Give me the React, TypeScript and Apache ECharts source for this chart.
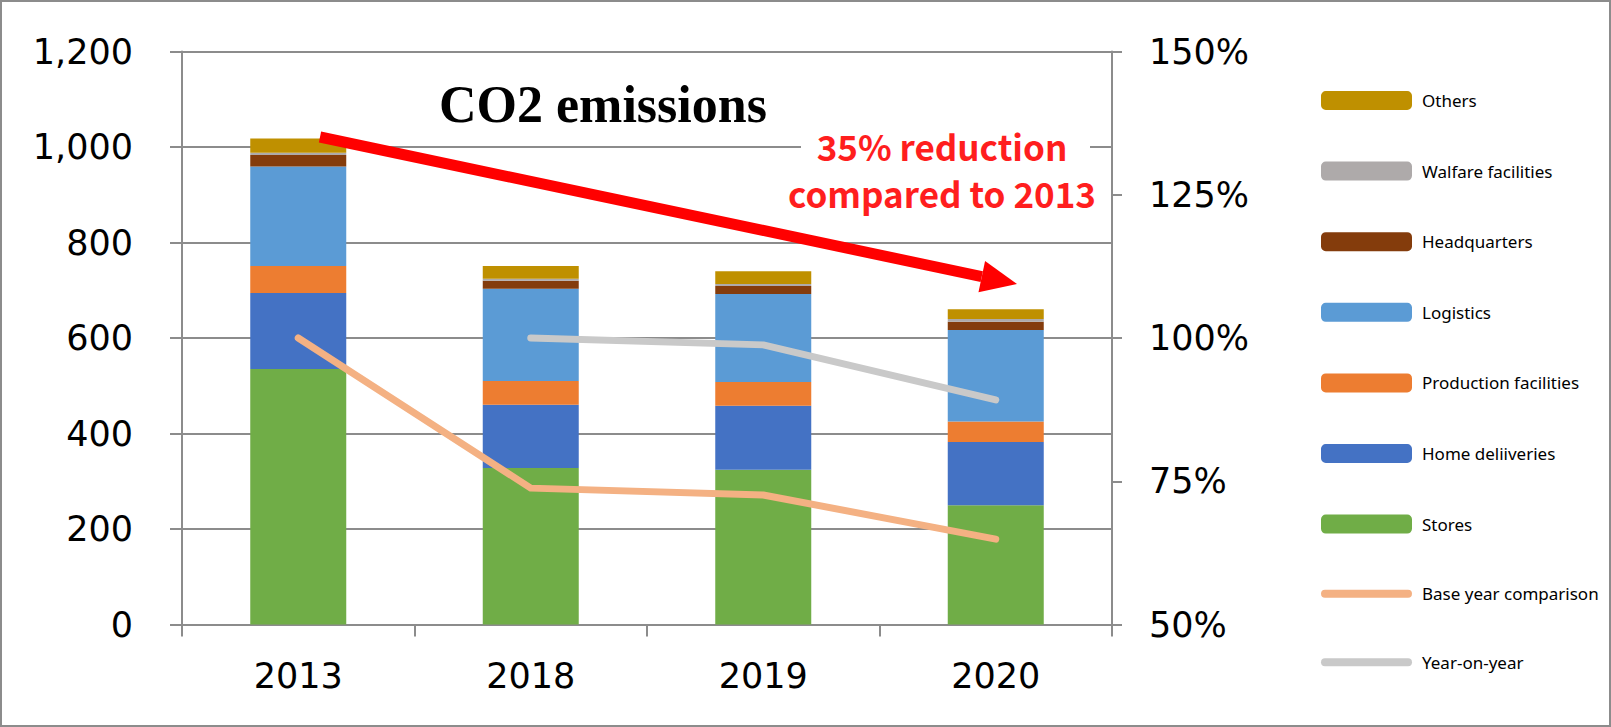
import React, { useEffect, useRef } from "react";
import * as echarts from "echarts";

const categories = ["2013", "2018", "2019", "2020"];
const stores = [535, 328, 324, 250];
const homeDeliveries = [159, 132, 134, 132];
const production = [57, 50, 50, 43];
const logistics = [208, 193, 184, 192];
const headquarters = [24, 17, 17, 17];
const welfare = [5, 4, 4, 6];
const others = [30, 27, 27, 20];
const baseYear = [100, 73.8, 72.6, 64.9];
const yearOnYear = [null, 100, 98.8, 89.2];

const leftTicks = { min: 0, max: 1200, interval: 200 };
const rightTicks = { min: 50, max: 150, interval: 25 };

const GRID = "#8c8c8c";
const LINE_ICON = "path://M4,0 L87,0 A4,4 0 0 1 87,8 L4,8 A4,4 0 0 1 4,0 Z";

export default function App() {
  const ref = useRef<HTMLDivElement>(null);
  useEffect(() => {
    document.body.style.margin = "0";
    const chart = echarts.init(ref.current!, null, { renderer: "svg" });
    const barSeries = (name: string, data: number[], color: string) => ({
      name,
      type: "bar",
      stack: "total",
      data,
      barWidth: 96,
      itemStyle: { color },
      z: 2,
    });
    const lineSeries = (name: string, data: (number | null)[], color: string) => ({
      name,
      type: "line",
      yAxisIndex: 1,
      data,
      symbol: "none",
      showSymbol: false,
      lineStyle: { color, width: 7, cap: "round", join: "round" },
      itemStyle: { color },
      z: 5,
    });
    // arrow geometry
    const sx = 320, sy = 137, tx = 1017, ty = 284;
    const dx = tx - sx, dy = ty - sy;
    const len = Math.sqrt(dx * dx + dy * dy);
    const ux = dx / len, uy = dy / len;
    const nx = -uy, ny = ux;
    const headLen = 36, headHalf = 16;
    const bx = tx - headLen * ux, by = ty - headLen * uy;

    chart.setOption({
      animation: false,
      grid: { left: 182, right: 499, top: 51.5, bottom: 102.5 },
      legend: {
        orient: "vertical",
        left: 1316,
        top: 86,
        itemWidth: 91,
        itemHeight: 19,
        itemGap: 51.6,
        selectedMode: false,
        textStyle: { fontFamily: "Noto Sans", fontSize: 17, color: "#000", padding: [0, 0, 0, 5] },
        data: [
          { name: "Others", icon: "roundRect" },
          { name: "Walfare facilities", icon: "roundRect" },
          { name: "Headquarters", icon: "roundRect" },
          { name: "Logistics", icon: "roundRect" },
          { name: "Production facilities", icon: "roundRect" },
          { name: "Home deliiveries", icon: "roundRect" },
          { name: "Stores", icon: "roundRect" },
          { name: "Base year comparison", icon: LINE_ICON, itemStyle: { color: "#F4B183", borderWidth: 0 }, lineStyle: { width: 0 } },
          { name: "Year-on-year", icon: LINE_ICON, itemStyle: { color: "#C9C9C9", borderWidth: 0 }, lineStyle: { width: 0 } },
        ],
      },
      xAxis: {
        type: "category",
        data: categories,
        axisLine: { lineStyle: { color: GRID, width: 2 } },
        axisTick: { show: true, length: 12, lineStyle: { color: GRID, width: 2 } },
        axisLabel: { fontFamily: "DejaVu Sans", fontSize: 35, color: "#000", margin: 34 },
      },
      yAxis: [
        {
          type: "value",
          ...leftTicks,
          axisLine: { show: true, lineStyle: { color: GRID, width: 2 } },
          axisTick: { show: true, length: 12, lineStyle: { color: GRID, width: 2 } },
          splitLine: { lineStyle: { color: GRID, width: 2 } },
          axisLabel: {
            fontFamily: "DejaVu Sans",
            fontSize: 35,
            color: "#000",
            margin: 49,
            formatter: (v: number) => v.toLocaleString("en-US"),
          },
        },
        {
          type: "value",
          ...rightTicks,
          position: "right",
          axisLine: { show: true, lineStyle: { color: GRID, width: 2 } },
          axisTick: { show: true, length: 10, lineStyle: { color: GRID, width: 2 } },
          splitLine: { show: false },
          axisLabel: { fontFamily: "DejaVu Sans", fontSize: 35, color: "#000", margin: 37, formatter: "{value}%" },
        },
      ],
      series: [
        barSeries("Stores", stores, "#70AD47"),
        barSeries("Home deliiveries", homeDeliveries, "#4472C4"),
        barSeries("Production facilities", production, "#ED7D31"),
        barSeries("Logistics", logistics, "#5B9BD5"),
        barSeries("Headquarters", headquarters, "#843C0C"),
        barSeries("Walfare facilities", welfare, "#AEAAAA"),
        barSeries("Others", others, "#BF9000"),
        lineSeries("Base year comparison", baseYear, "#F4B183"),
        lineSeries("Year-on-year", yearOnYear, "#C9C9C9"),
      ],
      graphic: [
        {
          type: "rect",
          shape: { x: 1, y: 1, width: 1609, height: 725 },
          style: { fill: "none", stroke: "#8c8c8c", lineWidth: 2 },
          silent: true,
          z: 100,
        },
        {
          type: "text",
          x: 439,
          y: 104,
          style: {
            text: "CO2 emissions",
            font: "bold 52px 'Liberation Serif'",
            fill: "#000",
            textVerticalAlign: "middle",
          },
          z: 50,
        },
        {
          type: "rect",
          shape: { x: 801, y: 122, width: 289, height: 96 },
          style: { fill: "#fff" },
          z: 40,
        },
        {
          type: "text",
          x: 942,
          y: 145,
          style: {
            text: "35% reduction",
            font: "bold 35px 'Noto Sans CJK JP'",
            fill: "#ff1e1e",
            textAlign: "center",
            textVerticalAlign: "middle",
          },
          z: 50,
        },
        {
          type: "text",
          x: 942,
          y: 192,
          style: {
            text: "compared to 2013",
            font: "bold 35px 'Noto Sans CJK JP'",
            fill: "#ff1e1e",
            textAlign: "center",
            textVerticalAlign: "middle",
          },
          z: 50,
        },
        {
          type: "line",
          shape: { x1: sx, y1: sy, x2: bx, y2: by },
          style: { stroke: "#ff0000", lineWidth: 11 },
          z: 60,
        },
        {
          type: "polygon",
          shape: {
            points: [
              [tx, ty],
              [bx + headHalf * nx, by + headHalf * ny],
              [bx - headHalf * nx, by - headHalf * ny],
            ],
          },
          style: { fill: "#ff0000" },
          z: 60,
        },
      ],
    });
    return () => chart.dispose();
  }, []);
  return <div ref={ref} style={{ width: 1611, height: 727 }} />;
}
